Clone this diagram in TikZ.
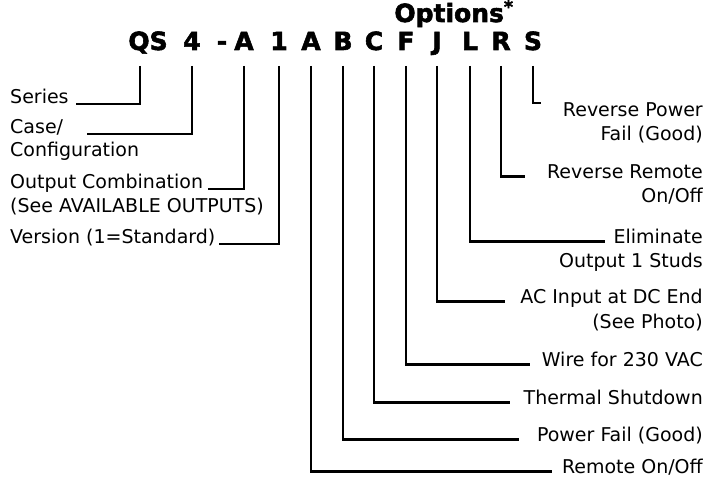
\documentclass[tikz,border=0pt]{standalone}
\usepackage{fontspec}
\setmainfont{DejaVu Sans}
\newfontfamily\heavyfont{DejaVu Sans}[BoldFeatures={FakeBold=2.2}]
\usetikzlibrary{positioning}

\begin{document}
\begin{tikzpicture}[x=1pt, y=-1pt,
  ltr/.style={font=\heavyfont\bfseries\fontsize{25}{25}\selectfont,
              inner sep=0pt, anchor=base},
  lab/.style={font=\fontsize{19}{19}\selectfont, inner sep=0pt,
              anchor=base west},
  labr/.style={font=\fontsize{19}{19}\selectfont, inner sep=0pt,
               anchor=base east},
  leg/.style={line width=2.8pt, line join=miter}]
\useasboundingbox (0,0) rectangle (716,478);
% model code
\node[ltr] (opts) at (454,22) {Options\textsuperscript{*}};
\node[ltr] (qs) at (148,50) {QS};
\node[ltr] (four) at (192,50) {4};
\node[ltr] (dash) at (222,50) {-};
\node[ltr] (outA) at (244,50) {A};
\node[ltr] (ver) at (279,50) {1};
\node[ltr] (optA) at (311,50) {A};
\node[ltr] (optB) at (343,50) {B};
\node[ltr] (optC) at (374,50) {C};
\node[ltr] (optF) at (406,50) {F};
\node[ltr] (optJ) at (437,50) {J};
\node[ltr] (optL) at (470,50) {L};
\node[ltr] (optR) at (501,50) {R};
\node[ltr] (optS) at (533,50) {S};
% left labels
\node[lab] (series) at (10,104) {Series};
\node[lab] (case) at (10,134) {Case/};
\node[lab] (config) at (10,157) {Configuration};
\node[lab] (outcomb) at (10,189) {Output Combination};
\node[lab] (seeout) at (10,213) {(See AVAILABLE OUTPUTS)};
\node[lab] (version) at (10,244) {Version (1=Standard)};
% right labels
\node[labr] (revpf) at (703,117) {Reverse Power};
\node[labr] (revpf2) at (703,141) {Fail (Good)};
\node[labr] (revrem) at (703,179) {Reverse Remote};
\node[labr] (revrem2) at (703,203) {On/Off};
\node[labr] (elim) at (703,244) {Eliminate};
\node[labr] (elim2) at (703,268) {Output 1 Studs};
\node[labr] (acin) at (703,304) {AC Input at DC End};
\node[labr] (acin2) at (703,329) {(See Photo)};
\node[labr] (wire) at (703,367) {Wire for 230 VAC};
\node[labr] (thermal) at (703,405) {Thermal Shutdown};
\node[labr] (pfail) at (703,442) {Power Fail (Good)};
\node[labr] (remote) at (703,474) {Remote On/Off};
% legs
\draw[leg] ([xshift=-8pt,yshift=-16pt]qs.base) |- ([xshift=7pt]series.base east);
\draw[leg] ([yshift=-16pt]four.base) |- ([xshift=24pt]case.base east);
\draw[leg] ([yshift=-16pt]outA.base) |- ([xshift=5pt]outcomb.base east);
\draw[leg] ([yshift=-16pt]ver.base) |- ([xshift=3pt]version.base east);
\draw[leg] ([yshift=-16pt]optS.base) |- ([xshift=-22pt]revpf.north west);
\draw[leg] ([yshift=-16pt]optR.base) |- ([xshift=-22pt]revrem.mid west);
\draw[leg] ([yshift=-16pt]optL.base) |- ([xshift=-8pt]elim.mid west);
\draw[leg] ([yshift=-16pt]optJ.base) |- ([xshift=-15pt]acin.mid west);
\draw[leg] ([yshift=-16pt]optF.base) |- ([xshift=-12pt]wire.mid west);
\draw[leg] ([yshift=-16pt]optC.base) |- ([xshift=-13pt]thermal.mid west);
\draw[leg] ([yshift=-16pt]optB.base) |- ([xshift=-18pt]pfail.mid west);
\draw[leg] ([yshift=-16pt]optA.base) |- ([xshift=-10pt]remote.mid west);
\end{tikzpicture}
\end{document}
